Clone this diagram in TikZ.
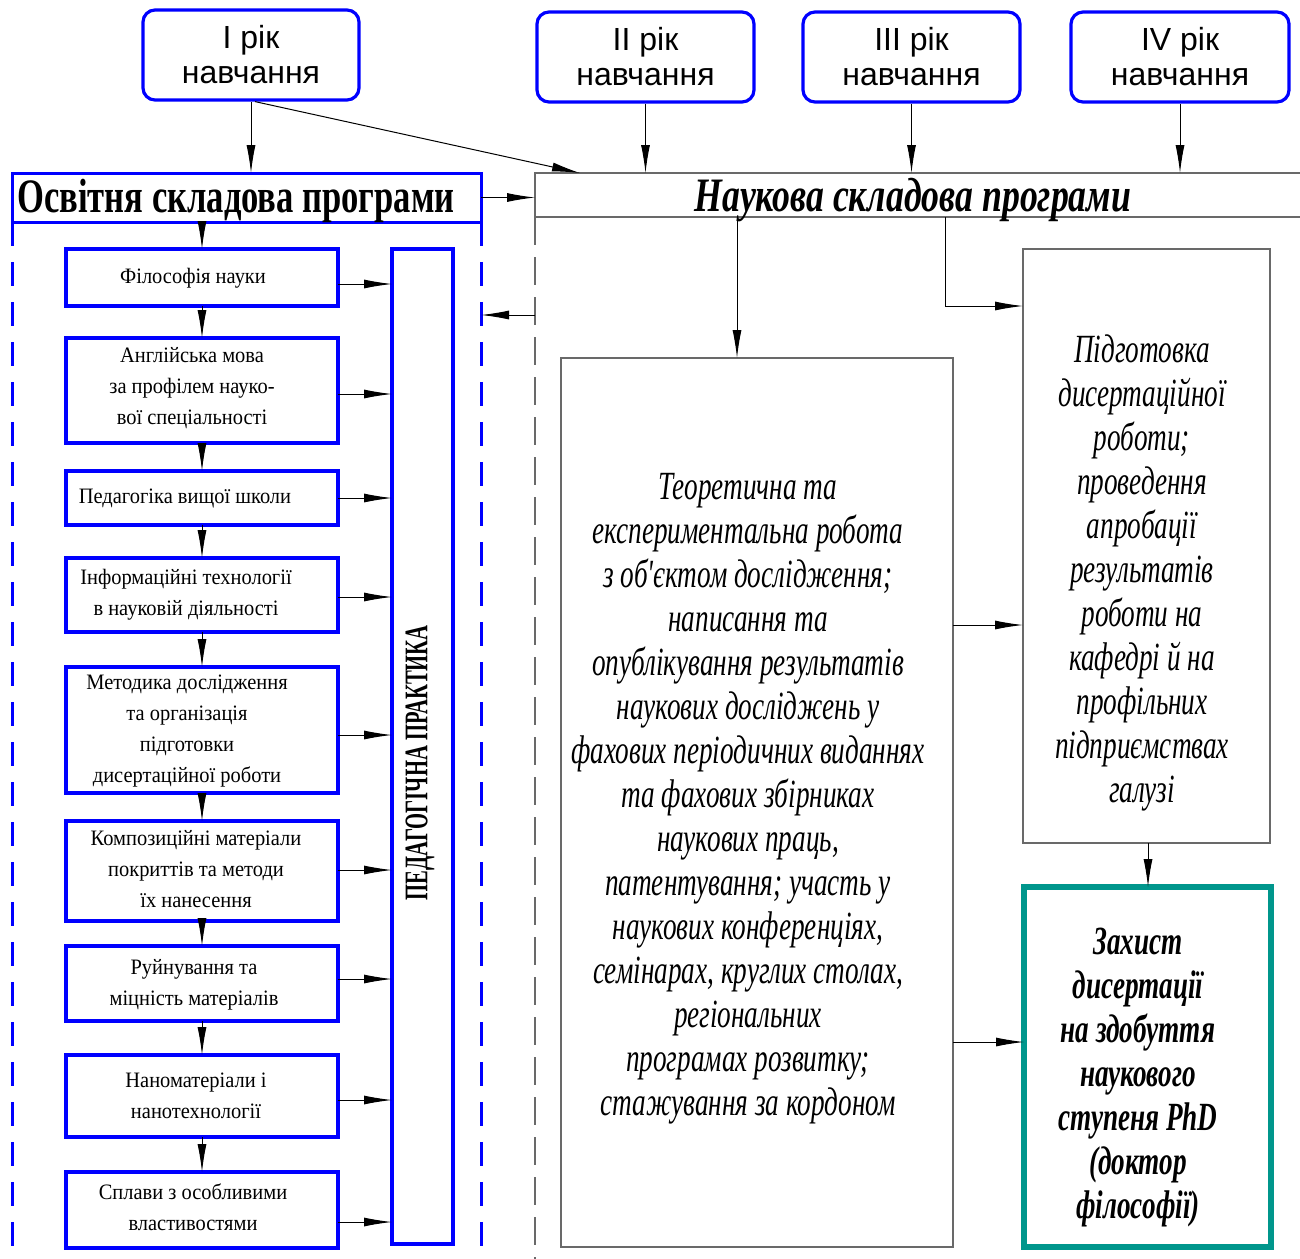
\documentclass[tikz,border=0pt]{standalone}
\usepackage{fontspec}
\setmainfont{Liberation Serif}
\newfontfamily\boxfont[FakeStretch=0.93]{Liberation Serif}
\newfontfamily\headfont[FakeStretch=0.72]{Liberation Serif}
\newfontfamily\headfontb[FakeStretch=0.745]{Liberation Serif}
\newfontfamily\itfont[FakeStretch=0.68]{Liberation Serif}
\newfontfamily\pracfont[FakeStretch=0.625]{Liberation Serif}
\newfontfamily\yearfont{Liberation Sans}
\usetikzlibrary{arrows.meta,calc}
\definecolor{myblue}{RGB}{0,0,255}
\definecolor{myteal}{RGB}{0,150,140}
\definecolor{mygray}{RGB}{105,105,105}
\newcommand\mybox[7]{\node[#1,minimum width={(#5-#3)*0.5pt},minimum height={(#6-#4)*0.5pt}] (#2) at ({(#3+#5)/2},{(#4+#6)/2}) {#7};}
\begin{document}
\begin{tikzpicture}[x=0.5pt,y=-0.5pt,
  yearbox/.style={draw=myblue,line width=1.6pt,rounded corners=6pt,inner sep=0pt,align=center,font=\yearfont\fontsize{16}{17.5}\selectfont},
  sbox/.style={draw=myblue,line width=2pt,inner sep=0pt,outer sep=0pt},
  hbox/.style={draw=myblue,line width=1.5pt,inner sep=0pt,outer sep=0pt},
  gbox/.style={draw=mygray,line width=0.7pt,inner sep=0pt,outer sep=0pt},
  tbox/.style={draw=myteal,line width=3pt,inner sep=0pt,outer sep=0pt},
  btext/.style={align=center,inner sep=0pt,font=\boxfont\fontsize{11}{15.5}\selectfont},
  itext/.style={align=center,inner sep=0pt,font=\itfont\fontsize{20}{22}\selectfont\itshape},
  htext/.style={inner sep=0pt,anchor=base,font=\headfont\fontsize{24}{24}\selectfont\bfseries},
  arr/.style={draw=black,line width=0.5pt,-{Latex[length=14pt,width=4.5pt]}},
  bdash/.style={draw=myblue,line width=1.5pt,dash pattern=on 12pt off 8pt},
  gdash/.style={draw=mygray,line width=0.7pt,dash pattern=on 14pt off 6pt}
]
\useasboundingbox (0,0) rectangle (1300,1258);
% year boxes
\mybox{yearbox}{I}{143}{10}{359}{100}{I рік\\навчання}
\mybox{yearbox}{II}{537}{12}{754}{102}{II рік\\навчання}
\mybox{yearbox}{III}{803}{12}{1020}{102}{III рік\\навчання}
\mybox{yearbox}{IV}{1071}{12}{1289}{102}{IV рік\\навчання}
% headers
\mybox{hbox}{osv}{12}{173}{481}{222}{}
\mybox{gbox}{nauk}{535}{173}{1320}{217}{}
\node[htext] (osvt) at (236,212) {Освітня складова програми};
\node[htext,font=\headfontb\fontsize{24}{24}\selectfont\bfseries\itshape] (naukt) at (913,211) {Наукова складова програми};
% dashed frames
\draw[bdash] (osv.south west) -- ++(0,1070);
\draw[bdash] (osv.south east) -- ++(0,1070);
\draw[gdash] (nauk.south west) -- ++(0,1070);
% left boxes
\mybox{sbox}{b1}{66}{249}{338}{306}{}
\mybox{sbox}{b2}{66}{338}{338}{443}{}
\mybox{sbox}{b3}{66}{471}{338}{525}{}
\mybox{sbox}{b4}{66}{558}{338}{632}{}
\mybox{sbox}{b5}{66}{667}{338}{793}{}
\mybox{sbox}{b6}{66}{821}{338}{921}{}
\mybox{sbox}{b7}{66}{946}{338}{1021}{}
\mybox{sbox}{b8}{66}{1055}{338}{1137}{}
\mybox{sbox}{b9}{66}{1172}{338}{1248}{}
\mybox{sbox}{prac}{392}{249}{453}{1244}{}
\node[btext] (t1) at (193,278) {Філософія науки};
\node[btext] (t2) at (192,388) {Англійська мова\\за профілем науко-\\вої спеціальності};
\node[btext] (t3) at (185,498) {Педагогіка вищої школи};
\node[btext] (t4) at (186,595) {Інформаційні технології\\в науковій діяльності};
\node[btext] (t5) at (187,731) {Методика дослідження\\та організація\\підготовки\\дисертаційної роботи};
\node[btext] (t6) at (196,869) {Композиційні матеріали\\покриттів та методи\\їх нанесення};
\node[btext] (t7) at (194,985) {Руйнування та\\міцність матеріалів};
\node[btext] (t8) at (196,1096) {Наноматеріали і\\нанотехнології};
\node[btext] (t9) at (193,1207) {Сплави з особливими\\властивостями};
\node[rotate=90,inner sep=0pt,font=\pracfont\fontsize{16.5}{16.5}\selectfont\bfseries] (pt) at (420,763) {ПЕДАГОГІЧНА ПРАКТИКА};
% right boxes
\mybox{gbox}{big}{561}{358}{953}{1247}{}
\mybox{gbox}{rbox}{1023}{249}{1270}{843}{}
\mybox{tbox}{green}{1024}{887}{1271}{1247}{}
\node[itext] (tbig) at (748,799) {Теоретична та\\експериментальна робота\\з об'єктом дослідження;\\написання та\\опублікування результатів\\наукових досліджень у\\фахових періодичних виданнях\\та фахових збірниках\\наукових праць,\\патентування; участь у\\наукових конференціях,\\семінарах, круглих столах,\\регіональних\\програмах розвитку;\\стажування за кордоном};
\node[itext] (trb) at (1142,573) {Підготовка\\дисертаційної\\роботи;\\проведення\\апробації\\результатів\\роботи на\\кафедрі й на\\профільних\\підприємствах\\галузі};
\node[itext,font=\itfont\fontsize{20}{22}\selectfont\bfseries\itshape] (tg) at (1138,1078) {Захист\\дисертації\\на здобуття\\наукового\\ступеня PhD\\(доктор\\філософії)};
% connectors top
\coordinate (nt) at (580,173);
\draw[arr] (I.south) -- (I.south |- osv.north);
\draw[arr] ([xshift=2pt]I.south) -- (nt);
\draw[arr] (II.south) -- (II.south |- nauk.north);
\draw[arr] (III.south) -- (III.south |- nauk.north);
\draw[arr] (IV.south) -- (IV.south |- nauk.north);
\draw[arr] (osv.east) -- (osv.east -| nauk.west);
\coordinate (nd) at (535,315);
\draw[arr] (nd) -- (nd -| osv.east);
% left chain
\draw[arr] (b1.north |- osv.south) -- (b1.north);
\foreach \i/\j in {1/2,2/3,3/4,4/5,5/6,6/7,7/8,8/9}
  \draw[arr] (b\i.south) -- (b\j.north);
\foreach \i/\y in {1/284,2/394,3/498,4/597,5/735,6/870,7/979,8/1100,9/1222}
  \draw[arr] (0,\y -| b\i.east) -- (0,\y -| prac.west);
% right connectors
\draw[arr] ([xshift=-10pt]big.north |- nauk.south) -- ([xshift=-10pt]big.north);
\draw[arr] (945,0 |- nauk.south) |- ([yshift=-28.5pt]rbox.north west);
\draw[arr] (0,625 -| big.east) -- (0,625 -| rbox.west);
\draw[arr] (0,1042 -| big.east) -- (0,1042 -| green.west);
\draw[arr] (1148,0 |- rbox.south) -- (1148,0 |- green.north);
\end{tikzpicture}
\end{document}
